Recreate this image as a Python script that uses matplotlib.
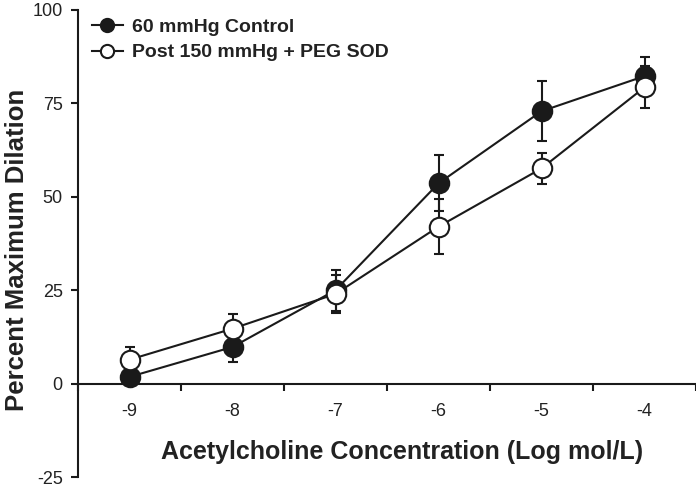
import matplotlib
matplotlib.use("Agg")
import matplotlib.pyplot as plt
from matplotlib.lines import Line2D

plt.rcParams['font.family'] = ['Liberation Sans', 'DejaVu Sans']
plt.rcParams['axes.unicode_minus'] = False

x_vals = [-9, -8, -7, -6, -5, -4]
control = [1.8, 9.8, 25.0, 53.6, 72.9, 82.3]
control_err = [2.0, 3.9, 5.5, 7.5, 8.0, 5.0]
peg_sod = [6.4, 14.7, 24.0, 42.0, 57.6, 79.3]
peg_sod_err = [3.5, 4.0, 5.0, 7.3, 4.2, 5.6]
x_tick_labels = ['-9', '-8', '-7', '-6', '-5', '-4']
y_ticks = [-25, 0, 25, 50, 75, 100]
series_labels = ['60 mmHg Control', 'Post 150 mmHg + PEG SOD']

line_color = '#1a1a1a'
text_color = '#222222'

fig = plt.figure(figsize=(6.96, 4.91), dpi=100)
ax = fig.add_axes([78/696, 1 - 477/491, 618/696, 467/491])

ax.errorbar(x_vals, control, yerr=control_err, color=line_color, lw=1.5,
            marker='o', ms=14, mfc=line_color, mec=line_color, mew=1.5,
            ecolor=line_color, elinewidth=1.5, capsize=3.5, capthick=1.5, zorder=3)
ax.errorbar(x_vals, peg_sod, yerr=peg_sod_err, color=line_color, lw=1.5,
            marker='o', ms=14, mfc='white', mec=line_color, mew=1.5,
            ecolor=line_color, elinewidth=1.5, capsize=3.5, capthick=1.5, zorder=4)

ax.set_xlim(-9.5, -3.5)
ax.set_ylim(-25, 100)

for s in ['top', 'right']:
    ax.spines[s].set_visible(False)
ax.spines['bottom'].set_position(('data', 0))
for s in ['left', 'bottom']:
    ax.spines[s].set_linewidth(1.5)
    ax.spines[s].set_color(line_color)

ax.set_xticks(x_vals)
ax.set_xticklabels(x_tick_labels)
ax.set_xticks([v + 0.5 for v in [-10, -9, -8, -7, -6, -5, -4]], minor=True)
ax.tick_params(axis='x', which='major', length=0, pad=14, labelsize=13, labelcolor=text_color)
ax.tick_params(axis='x', which='minor', length=5, width=1.5, direction='out', color=line_color)
ax.set_yticks(y_ticks)
ax.tick_params(axis='y', which='major', length=5, width=1.5, direction='out',
               color=line_color, labelsize=13, labelcolor=text_color, pad=6)

fig.text(17/696, 1 - 250/491, 'Percent Maximum Dilation', rotation=90, ha='center', va='center',
         fontsize=18.5, fontweight='bold', color=text_color)
ax.set_xlabel('Acetylcholine Concentration (Log mol/L)', fontsize=18, fontweight='bold', color=text_color)
ax.xaxis.set_label_coords((402 - 78) / 618, (477 - 440) / 467)

handles = [
    Line2D([], [], color=line_color, lw=1.5, marker='o', ms=9.5, mfc=line_color, mec=line_color, mew=1.5),
    Line2D([], [], color=line_color, lw=1.5, marker='o', ms=9.5, mfc='white', mec=line_color, mew=1.5),
]
leg = ax.legend(handles, series_labels, loc='upper left',
                bbox_to_anchor=((95 - 78) / 618 - 0.005, (477 - 18) / 467),
                frameon=False, prop={'weight': 'bold', 'size': 14}, handlelength=1.6,
                handletextpad=0.45, labelspacing=0.42, borderaxespad=0.0, borderpad=0.0)
for t in leg.get_texts():
    t.set_color(text_color)

fig.savefig('out.png', dpi=100)
